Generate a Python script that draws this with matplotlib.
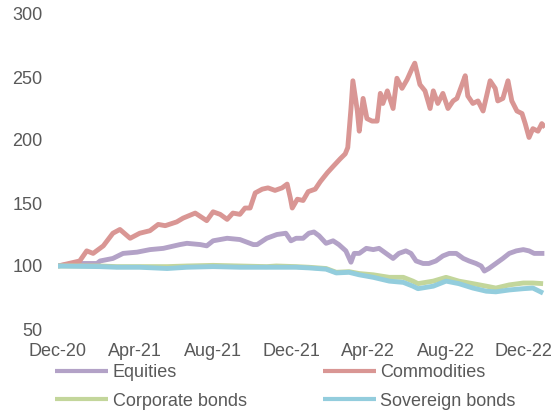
import pandas as pd
import matplotlib
matplotlib.use('Agg')
import matplotlib.pyplot as plt
import matplotlib.dates as mdates

plt.rcParams['font.family'] = ['Liberation Sans', 'DejaVu Sans']

# values (index, start = 100)
eq_dates = ['2020-12-31', '2021-01-24', '2021-02-16', '2021-03-02', '2021-03-07', '2021-03-27',
            '2021-04-12', '2021-05-04', '2021-05-24', '2021-06-14', '2021-07-10', '2021-07-21',
            '2021-08-11', '2021-08-21', '2021-08-31', '2021-09-22', '2021-10-12', '2021-11-02',
            '2021-11-08', '2021-11-23', '2021-12-09', '2021-12-23', '2021-12-31', '2022-01-08',
            '2022-01-19', '2022-01-28', '2022-02-05', '2022-02-13', '2022-02-24', '2022-03-07',
            '2022-03-16', '2022-03-27', '2022-04-04', '2022-04-09', '2022-04-17', '2022-04-28',
            '2022-05-09', '2022-05-18', '2022-05-29', '2022-06-09', '2022-06-18', '2022-06-29',
            '2022-07-07', '2022-07-15', '2022-07-26', '2022-08-04', '2022-08-15', '2022-08-26',
            '2022-09-05', '2022-09-16', '2022-09-27', '2022-10-06', '2022-10-17', '2022-10-25',
            '2022-10-30', '2022-11-06', '2022-11-17', '2022-11-28', '2022-12-08', '2022-12-19',
            '2022-12-30', '2023-01-08', '2023-01-16', '2023-01-24', '2023-02-01']
equities = [100, 102, 102, 102, 104, 106,
            110, 111, 113, 114, 117, 118,
            117, 116, 120, 122, 121, 117,
            117, 122, 125, 126, 120, 122,
            122, 126, 127, 124, 118, 120,
            117, 112, 103, 110, 110, 114,
            113, 114, 110, 106, 110, 112,
            110, 104, 102, 102, 104, 108,
            110, 110, 106, 104, 102, 100,
            96, 98, 102, 106, 110, 112,
            113, 112, 110, 110, 110]

com_dates = ['2020-12-31', '2021-02-03', '2021-02-14', '2021-02-24', '2021-03-12', '2021-03-27',
             '2021-04-07', '2021-04-23', '2021-05-08', '2021-05-24', '2021-06-06', '2021-06-17',
             '2021-07-05', '2021-07-15', '2021-08-03', '2021-08-21', '2021-08-31', '2021-09-11',
             '2021-09-22', '2021-10-01', '2021-10-12', '2021-10-20', '2021-10-28', '2021-11-05',
             '2021-11-16', '2021-11-25', '2021-12-06', '2021-12-17', '2021-12-25', '2021-12-30',
             '2022-01-02', '2022-01-10', '2022-01-19', '2022-01-27', '2022-02-07', '2022-02-15',
             '2022-02-26', '2022-03-07', '2022-03-18', '2022-03-26', '2022-03-30', '2022-04-04',
             '2022-04-07', '2022-04-14', '2022-04-17', '2022-04-23', '2022-04-29', '2022-05-07',
             '2022-05-15', '2022-05-20', '2022-05-24', '2022-05-31', '2022-06-09', '2022-06-15',
             '2022-06-23', '2022-07-01', '2022-07-09', '2022-07-13', '2022-07-21', '2022-07-29',
             '2022-08-06', '2022-08-11', '2022-08-18', '2022-08-26', '2022-09-03', '2022-09-11',
             '2022-09-17', '2022-09-25', '2022-09-30', '2022-10-04', '2022-10-12', '2022-10-20',
             '2022-10-28', '2022-11-08', '2022-11-16', '2022-11-20', '2022-11-28', '2022-12-06',
             '2022-12-12', '2022-12-20', '2022-12-28', '2023-01-02', '2023-01-08', '2023-01-14',
             '2023-01-22', '2023-01-28', '2023-02-02']
commodities = [100, 104, 112, 110, 116, 126,
               129, 122, 126, 128, 133, 132,
               135, 138, 142, 136, 143, 141,
               137, 142, 141, 146, 146, 158,
               161, 162, 160, 162, 165, 154,
               146, 153, 152, 159, 161, 167,
               174, 179, 185, 189, 194, 225,
               247, 223, 207, 233, 217, 215,
               215, 237, 229, 239, 225, 249,
               241, 248, 257, 261, 244, 239,
               225, 239, 229, 237, 225, 231,
               233, 244, 251, 235, 229, 231,
               223, 247, 241, 231, 233, 247,
               231, 223, 221, 213, 202, 209,
               207, 213, 210]

bond_dates = ['2020-12-31', '2021-03-07', '2021-04-02', '2021-05-08', '2021-06-20', '2021-07-21',
              '2021-08-31', '2021-10-12', '2021-11-23', '2021-12-08', '2022-01-08', '2022-01-28',
              '2022-02-24', '2022-03-12', '2022-04-01', '2022-04-17', '2022-05-09', '2022-06-03',
              '2022-06-25', '2022-07-10', '2022-07-18', '2022-08-11', '2022-08-31', '2022-09-20',
              '2022-10-12', '2022-11-02', '2022-11-17', '2022-12-08', '2022-12-30', '2023-01-14',
              '2023-01-30']
corporate = [100, 100, 99.5, 99.5, 99.5, 100,
             100.5, 100, 99.5, 100, 99.5, 99,
             98, 95, 95.5, 94, 93, 91,
             91, 88, 86, 88, 91, 88,
             86, 84, 82.5, 85, 86.5, 86.5,
             86]
sovereign = [100, 99.5, 99, 99, 98, 99,
             99.5, 99, 99, 99, 99, 98.5,
             97.5, 94.5, 95, 93, 91, 88,
             87, 84, 82, 84, 88, 86,
             82.5, 80, 79.5, 81, 82, 82.5,
             78.5]

tick_dates = ['2020-12-31', '2021-04-30', '2021-08-31', '2021-12-31',
              '2022-04-30', '2022-08-31', '2022-12-31']
y_ticks = [50, 100, 150, 200, 250, 300]

colors = {'Equities': '#b3a2c7', 'Commodities': '#d99694',
          'Corporate bonds': '#c3d69b', 'Sovereign bonds': '#93cddd'}
grey = '#595959'

fig = plt.figure(figsize=(5.56, 4.12), dpi=100)
ax = fig.add_axes([58 / 556, 1 - 329 / 412, 487 / 556, 315 / 412])

lines = {}
series = [('Equities', eq_dates, equities), ('Commodities', com_dates, commodities),
          ('Corporate bonds', bond_dates, corporate), ('Sovereign bonds', bond_dates, sovereign)]
for name, d, v in series:
    lines[name], = ax.plot(pd.to_datetime(d), v, color=colors[name], lw=3.5,
                           solid_joinstyle='round', solid_capstyle='butt', label=name)

ax.set_xlim(pd.Timestamp('2020-12-31'), pd.Timestamp('2023-02-02'))
ax.set_ylim(50, 300)
ax.set_yticks(y_ticks)
ax.set_xticks(pd.to_datetime(tick_dates))
ax.xaxis.set_major_formatter(mdates.DateFormatter('%b-%y'))
ax.tick_params(length=0, labelsize=13, colors=grey)
ax.tick_params(axis='y', pad=11)
ax.tick_params(axis='x', pad=10)
for s in ax.spines.values():
    s.set_visible(False)

order = ['Equities', 'Corporate bonds', 'Commodities', 'Sovereign bonds']
leg = fig.legend([lines[k] for k in order], order, ncol=2, frameon=False,
                 loc='upper left', bbox_to_anchor=(55 / 556, 1 - 364 / 412),
                 borderpad=0, borderaxespad=0, handlelength=2.95, handletextpad=0.25,
                 columnspacing=4.2, labelspacing=0.64, fontsize=13)
for t in leg.get_texts():
    t.set_color(grey)
for h in leg.legend_handles:
    h.set_linewidth(3)

fig.savefig('out.png', dpi=100)
